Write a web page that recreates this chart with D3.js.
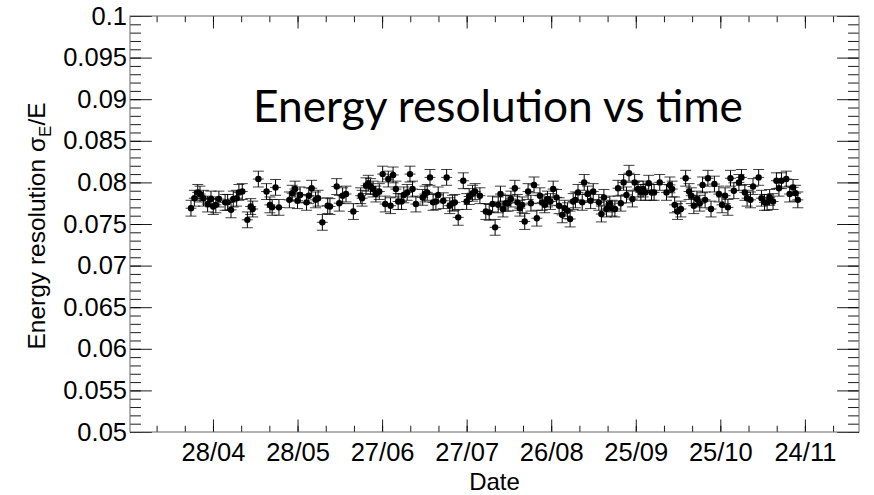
<!DOCTYPE html>
<html>
<head>
  <meta charset="UTF-8">
  <title>Energy resolution vs time</title>
  <script src="https://d3js.org/d3.v7.min.js"></script>
  <style>
    body { margin: 0; background: #fff; }
    svg { display: block; }
    .axis text { font-family: "Liberation Sans", Arial, sans-serif; font-size: 25.5px; fill: #000; }
  </style>
</head>
<body>

<svg id="svg1" width="874" height="495"></svg>

<script>

    // days since 28/04
    const days = [
        -7.8,-6.6,-5.4,-4.6,-3.4,-1.9,-0.7,0.1,1.0,2.1,4.3,5.2,6.4,7.2,8.4,9.2,10.4,12.2,13.4,14.1,
        16.1,19.0,20.2,21.0,22.2,23.4,27.1,28.1,29.1,30.0,30.9,33.2,34.0,35.0,36.4,37.3,38.8,40.7,41.5,
        43.9,44.8,46.0,47.2,49.8,52.4,52.9,54.3,55.1,55.9,56.8,57.8,59.0,60.2,61.1,62.2,63.0,63.9,64.9,65.7,
        66.9,67.7,68.9,69.9,70.8,72.0,74.4,75.2,76.0,77.0,78.1,79.1,79.9,81.7,82.9,84.0,85.0,85.8,87.0,88.8,
        90.0,90.9,92.1,93.0,94.7,96.8,98.0,99.2,100.1,101.2,102.0,102.9,103.9,
        104.7,105.7,107.1,108.0,108.9,109.7,110.6,111.8,112.8,113.9,114.9,116.0,116.8,117.7,118.7,
        119.7,120.7,121.9,122.8,123.9,124.8,125.8,126.7,127.8,128.6,129.5,131.0,131.7,132.9,134.0,
        134.9,136.9,137.8,138.7,139.6,140.8,141.6,142.6,143.7,144.7,145.7,146.7,147.6,148.8,149.6,
        150.8,151.8,152.6,153.4,154.6,155.6,156.5,158.5,160.9,162.1,162.9,163.8,164.8,166.0,
        167.7,168.9,169.7,170.6,171.7,172.7,173.7,174.6,175.6,176.7,177.9,179.5,180.6,181.7,182.7,
        183.6,184.8,186.6,187.5,188.7,189.5,190.7,191.6,193.6,194.6,195.7,196.6,197.5,198.7,199.9,
        200.8,201.7,203.4,204.6,205.8,206.7,207.5
    ];

    const resolution = [
        0.0769,0.0781,0.0788,0.0786,0.0781,0.0774,0.0780,0.0771,0.0773,0.0780,0.0776,0.0776,0.0767,0.0780,0.0781,0.0788,0.0789,0.0755,0.0771,0.0768,
        0.0804,0.0789,0.0773,0.0770,0.0794,0.0770,0.0779,0.0787,0.0792,0.0778,0.0785,0.0776,0.0784,0.0793,0.0779,0.0781,0.0752,0.0772,0.0771,
        0.0795,0.0775,0.0784,0.0786,0.0765,0.0784,0.0781,0.0796,0.0799,0.0795,0.0792,0.0786,0.0789,0.0810,0.0774,0.0804,0.0772,0.0809,0.0792,0.0777,
        0.0777,0.0785,0.0788,0.0810,0.0792,0.0774,0.0782,0.0786,0.0788,0.0806,0.0776,0.0777,0.0785,0.0778,0.0806,0.0772,0.0775,0.0776,0.0758,0.0802,
        0.0777,0.0783,0.0787,0.0789,0.0784,0.0765,0.0764,0.0774,0.0746,0.0773,0.0786,0.0768,0.0775,
        0.0775,0.0780,0.0793,0.0776,0.0769,0.0773,0.0753,0.0789,0.0775,0.0797,0.0757,0.0784,0.0776,0.0773,0.0780,
        0.0777,0.0792,0.0782,0.0772,0.0761,0.0769,0.0766,0.0756,0.0777,0.0779,0.0788,0.0776,0.0800,0.0786,0.0778,
        0.0789,0.0776,0.0762,0.0782,0.0768,0.0774,0.0769,0.0768,0.0793,0.0775,0.0800,0.0785,0.0811,0.0780,0.0800,
        0.0792,0.0788,0.0792,0.0788,0.0799,0.0788,0.0788,0.0800,0.0788,0.0797,0.0792,0.0773,0.0765,0.0768,
        0.0805,0.0789,0.0784,0.0772,0.0780,0.0775,0.0797,0.0779,0.0805,0.0768,0.0798,0.0786,0.0773,0.0784,0.0770,
        0.0805,0.0790,0.0800,0.0806,0.0788,0.0781,0.0779,0.0795,0.0806,0.0781,0.0776,0.0776,0.0782,0.0777,0.0802,
        0.0793,0.0802,0.0804,0.0786,0.0794,0.0787,0.0779
    ];

    // half length of the error bars (about the same for every point)
    const resError = 0.00095;

    const xLabelDays = [0, 30, 60, 90, 120, 150, 180, 210];
    const xMinorDays = [-20, -10, 0, 10, 20, 30, 40, 50, 60, 70, 80, 90, 100, 110, 120, 130, 140, 150, 160, 170, 180, 190, 200, 210, 220];
    const yMajorTicks = [0.05, 0.055, 0.06, 0.065, 0.07, 0.075, 0.08, 0.085, 0.09, 0.095, 0.1];
    const xDayRange = [-29.44, 229.2];
    const yRange = [0.05, 0.1];

    const svg1 = d3.select("#svg1");
    const width = +svg1.attr("width");
    const height = +svg1.attr("height");
    const margin = { top: 16, right: 15, bottom: 63, left: 130 };
    const plotWidth = width - margin.left - margin.right;
    const plotHeight = height - margin.top - margin.bottom;

    const base = Date.UTC(2017, 3, 28);
    const toDate = d => new Date(base + d * 864e5);

    const timeScale = d3.scaleUtc(xDayRange.map(toDate), [0, plotWidth]);
    const valScale = d3.scaleLinear(yRange, [plotHeight, 0]);

    const plot = svg1.append("g")
        .attr("transform", `translate(${margin.left},${margin.top})`);

    const tickX = plotHeight * 0.03;
    const tickY = plotWidth * 0.03;
    const yMinorTicks = d3.range(50, 101).map(i => i / 1000);
    const fmtDate = d3.utcFormat("%d/%m");
    const fmtVal = d => String(+d.toFixed(3));

    // Axes (ROOT style: ticks inside, on all four sides)
    function tidy(g) {
        g.select(".domain").remove();
        g.selectAll("line").attr("stroke", "#000").attr("stroke-width", 0.9);
    }

    plot.append("g").attr("class", "x axis")
        .attr("transform", `translate(0,${plotHeight})`)
        .call(d3.axisBottom(timeScale).tickValues(xLabelDays.map(toDate)).tickSize(-tickX).tickPadding(11).tickFormat(fmtDate))
        .call(tidy);
    plot.append("g")
        .attr("transform", `translate(0,${plotHeight})`)
        .call(d3.axisBottom(timeScale).tickValues(xMinorDays.map(toDate)).tickSize(-tickX / 2).tickFormat(""))
        .call(tidy);
    plot.append("g")
        .call(d3.axisTop(timeScale).tickValues(xLabelDays.map(toDate)).tickSize(-tickX).tickFormat(""))
        .call(tidy);
    plot.append("g")
        .call(d3.axisTop(timeScale).tickValues(xMinorDays.map(toDate)).tickSize(-tickX / 2).tickFormat(""))
        .call(tidy);

    plot.append("g").attr("class", "y axis")
        .call(d3.axisLeft(valScale).tickValues(yMajorTicks).tickSize(-tickY).tickPadding(3).tickFormat(fmtVal))
        .call(tidy);
    plot.append("g")
        .call(d3.axisLeft(valScale).tickValues(yMinorTicks).tickSize(-tickY / 2).tickFormat(""))
        .call(tidy);
    plot.append("g")
        .attr("transform", `translate(${plotWidth},0)`)
        .call(d3.axisRight(valScale).tickValues(yMajorTicks).tickSize(-tickY).tickFormat(""))
        .call(tidy);
    plot.append("g")
        .attr("transform", `translate(${plotWidth},0)`)
        .call(d3.axisRight(valScale).tickValues(yMinorTicks).tickSize(-tickY / 2).tickFormat(""))
        .call(tidy);

    plot.append("rect")
        .attr("width", plotWidth).attr("height", plotHeight)
        .attr("fill", "none").attr("stroke", "#666").attr("stroke-width", 1);

    // Axis titles
    svg1.append("text")
        .attr("x", margin.left + plotWidth / 2)
        .attr("y", 490)
        .attr("text-anchor", "middle")
        .style("font-family", "'Liberation Sans', Arial, sans-serif")
        .style("font-size", "24px")
        .text("Date");

    const yLabel = svg1.append("text")
        .attr("transform", `translate(45,${margin.top + plotHeight / 2 + 2}) rotate(-90)`)
        .attr("text-anchor", "middle")
        .style("font-family", "'Liberation Sans', Arial, sans-serif")
        .style("font-size", "24.5px");
    yLabel.append("tspan").text("Energy resolution σ");
    yLabel.append("tspan").attr("dy", 6).style("font-size", "17px").text("E");
    yLabel.append("tspan").attr("dy", -6).text("/E");

    // Overlay title
    svg1.append("text")
        .attr("x", 253)
        .attr("y", 122)
        .attr("textLength", 490)
        .attr("lengthAdjust", "spacingAndGlyphs")
        .style("font-family", "Lato, 'Open Sans', sans-serif")
        .style("font-size", "44px")
        .style("fill", "#000")
        .text("Energy resolution vs time");

    // Points with error bars
    const points = days.map((d, i) => ({ date: toDate(d), val: resolution[i] }));
    const capW = 5.5;

    const pts = plot.selectAll("g.pt").data(points).join("g").attr("class", "pt");

    pts.append("line")
        .attr("x1", d => timeScale(d.date)).attr("x2", d => timeScale(d.date))
        .attr("y1", d => valScale(d.val - resError)).attr("y2", d => valScale(d.val + resError))
        .attr("stroke", "#000").attr("stroke-width", 1);

    [-resError, resError, 0].forEach(off => {
        pts.append("line")
            .attr("x1", d => timeScale(d.date) - capW).attr("x2", d => timeScale(d.date) + capW)
            .attr("y1", d => valScale(d.val + off)).attr("y2", d => valScale(d.val + off))
            .attr("stroke", "#000").attr("stroke-width", 0.75);
    });

    pts.append("circle")
        .attr("cx", d => timeScale(d.date))
        .attr("cy", d => valScale(d.val))
        .attr("r", 3.2)
        .attr("fill", "#000");

</script>

</body>
</html>
